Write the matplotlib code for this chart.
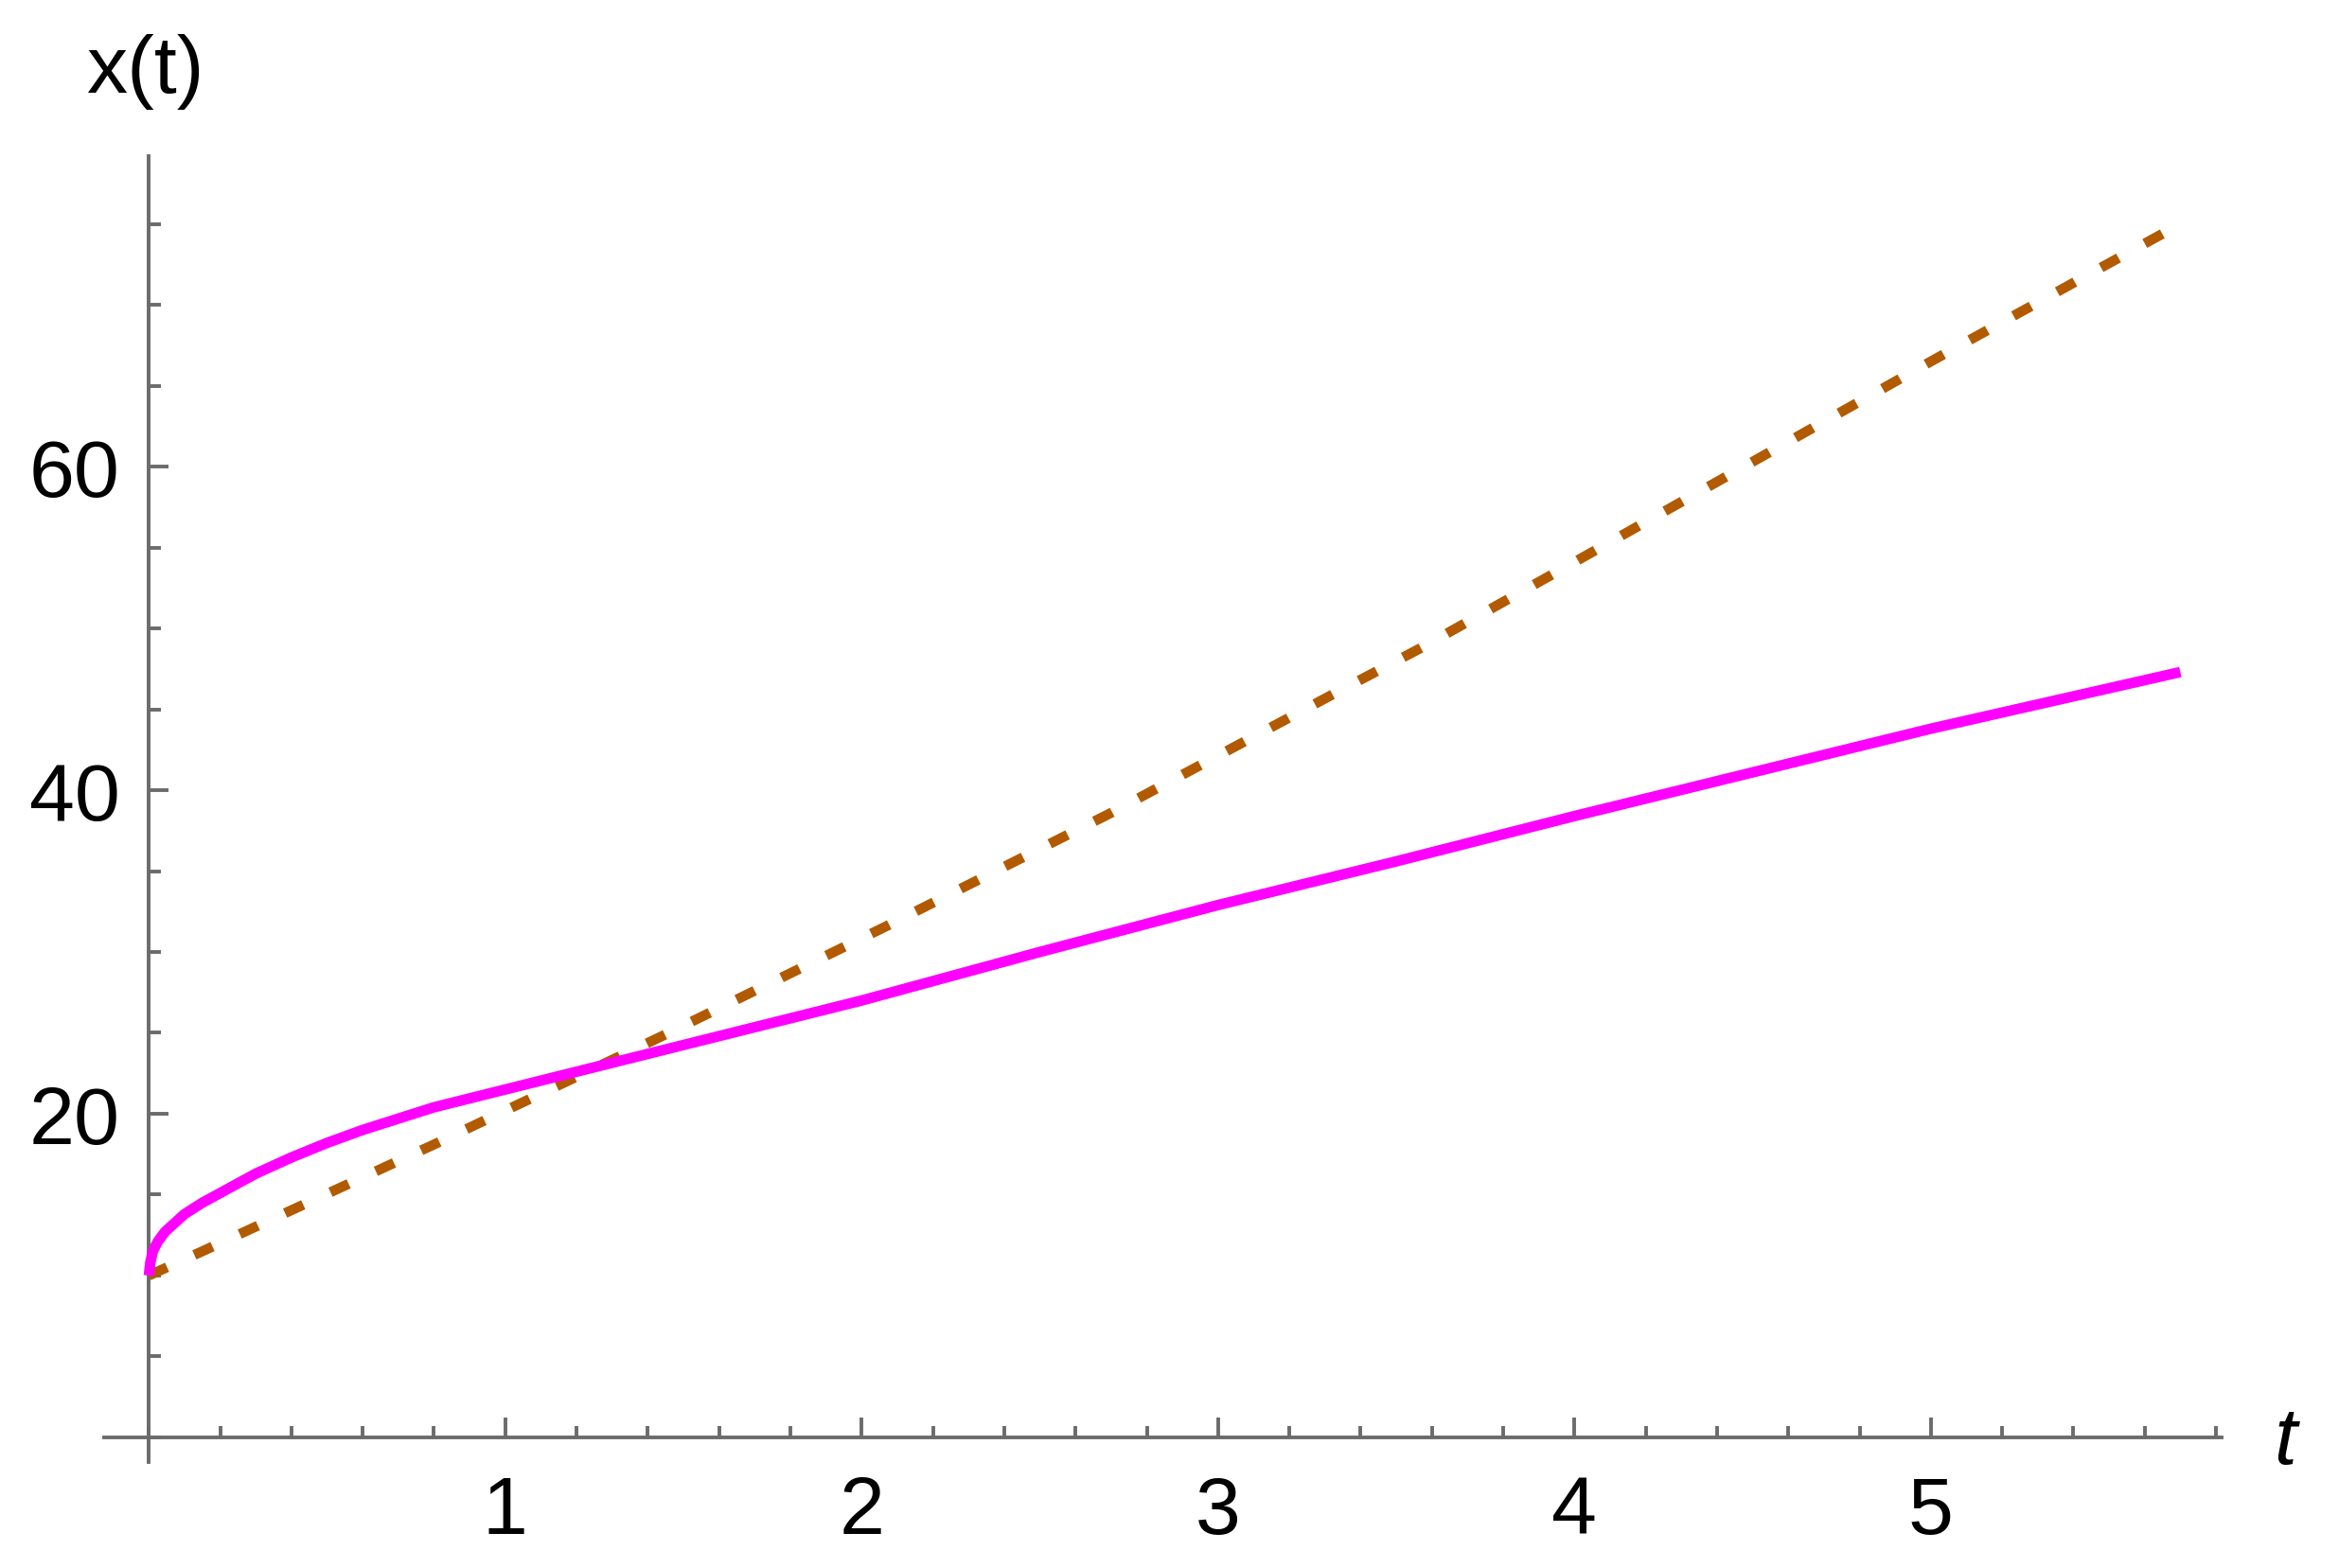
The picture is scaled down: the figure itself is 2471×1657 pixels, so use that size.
import numpy as np
import matplotlib
matplotlib.use("Agg")
import matplotlib.pyplot as plt
from matplotlib.ticker import MultipleLocator, FixedLocator

plt.rcParams['font.family'] = ['Liberation Sans', 'DejaVu Sans']

# values
t_solid = [0.0, 0.004, 0.011, 0.025, 0.045, 0.07, 0.1, 0.15, 0.2, 0.3, 0.4, 0.5,
           0.6, 0.8, 1.0, 1.2, 1.4, 1.6, 2.0, 2.5, 3.0, 3.5, 4.0, 4.5, 5.0, 5.7]
x_solid = [10.0, 10.8, 11.5, 12.1, 12.7, 13.2, 13.8, 14.5, 15.1, 16.3, 17.3, 18.2,
           19.0, 20.4, 21.5, 22.6, 23.7, 24.8, 27.0, 30.0, 32.9, 35.6, 38.4, 41.1,
           43.8, 47.3]

t_dashed = [0.0, 0.15, 0.8, 1.44, 2.07, 2.7, 3.32, 3.57, 4.0, 4.5, 5.0, 5.7]
x_dashed = [10.0, 11.5, 18.1, 24.8, 31.6, 38.6, 45.9, 48.8, 54.1, 60.3, 66.5, 75.0]

x_major = [1, 2, 3, 4, 5]
y_major = [20, 40, 60]

AXIS_GREY = '#6b6b6b'

fig = plt.figure(figsize=(2471 / 200, 1658 / 200), dpi=200, facecolor='white')
ax = fig.add_axes([0.0446, 0.0675, 0.9054, 0.8325])

# curves
ax.plot(t_dashed, x_dashed, color='#B25A00', linewidth=3.8,
        linestyle=(0, (2.0, 3.0)), dash_capstyle='butt', zorder=3)
ax.plot(t_solid, x_solid, color='#FF00FF', linewidth=4.0,
        solid_capstyle='butt', solid_joinstyle='round', zorder=4)

ax.set_xlim(-0.125, 5.817)
ax.set_ylim(-1.53, 79.2)

# Mathematica-style axes through the origin
for side in ['top', 'right']:
    ax.spines[side].set_visible(False)
ax.spines['left'].set_position(('data', 0))
ax.spines['bottom'].set_position(('data', 0))
for side in ['left', 'bottom']:
    ax.spines[side].set_color(AXIS_GREY)
    ax.spines[side].set_linewidth(1.4)

ax.xaxis.set_major_locator(FixedLocator(x_major))
ax.xaxis.set_minor_locator(MultipleLocator(0.2))
ax.yaxis.set_major_locator(FixedLocator(y_major))
ax.yaxis.set_minor_locator(MultipleLocator(5))

ax.tick_params(axis='both', which='both', direction='in', color=AXIS_GREY,
               width=1.4, labelsize=31, labelcolor='black')
ax.tick_params(axis='both', which='major', length=7.5)
ax.tick_params(axis='both', which='minor', length=4.5)
ax.tick_params(axis='x', which='major', pad=14)
ax.tick_params(axis='y', which='major', pad=11)

fig.text(0.062, 0.954, 'x(t)', fontsize=31, ha='center', va='center')
fig.text(0.977, 0.080, 't', fontsize=31, style='italic', ha='center', va='center')

fig.savefig('out.png', dpi=200, facecolor='white')
